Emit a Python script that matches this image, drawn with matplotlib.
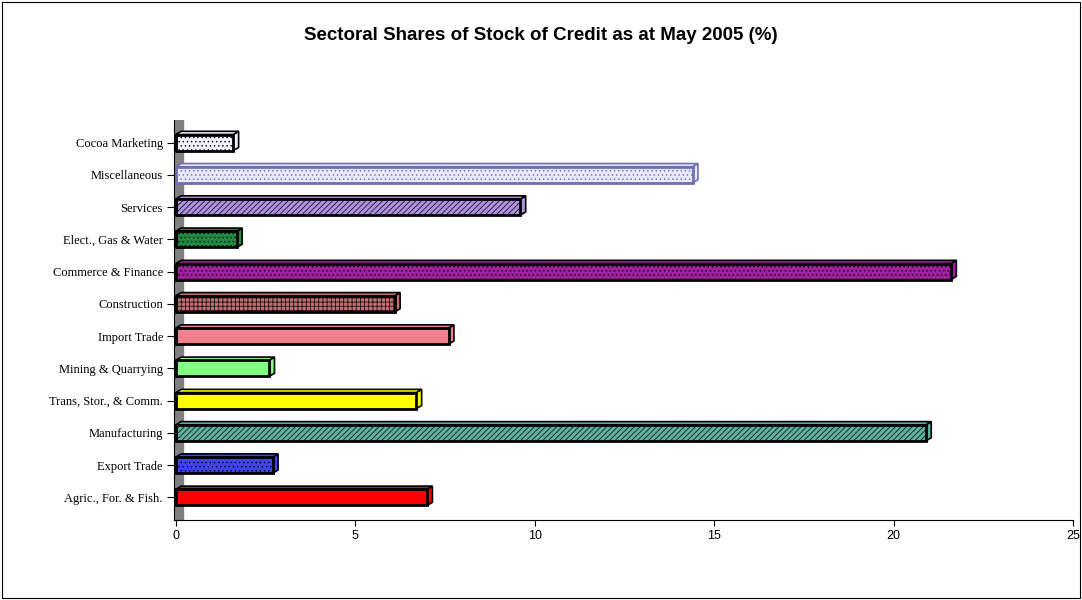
import matplotlib
matplotlib.use("Agg")
import matplotlib.pyplot as plt
from matplotlib.patches import Rectangle, Polygon

categories = ["Agric., For. & Fish.", "Export Trade", "Manufacturing", "Trans, Stor., & Comm.",
              "Mining & Quarrying", "Import Trade", "Construction", "Commerce & Finance",
              "Elect., Gas & Water", "Services", "Miscellaneous", "Cocoa Marketing"]
values = [7.0, 2.7, 20.9, 6.7, 2.6, 7.6, 6.1, 21.6, 1.7, 9.6, 14.4, 1.6]
colors = ["#ff0000", "#4040ff", "#60b0a0", "#ffff00", "#80ff80", "#f08090",
          "#c07070", "#a020a0", "#208a40", "#b090e0", "#e8e8ff", "#f0f0ff"]
hatches = [None, "....", "//////", None, None, None, "++++", "....", "....", "//////", "....", "...."]
edges = ["black"] * 10 + ["#7070b0", "black"]

fig = plt.figure(figsize=(10.82, 6), dpi=100)
fig.patches.append(Rectangle((0.0015, 0.003), 0.997, 0.994, transform=fig.transFigure,
                             fill=False, edgecolor="black", lw=0.8))
ax = fig.add_axes([174/1082, 80/600, 899/1082, 400/600])
plt.rcParams['hatch.linewidth'] = 0.5

ys = list(range(len(categories)))
for y, v, c, h, e in zip(ys, values, colors, hatches, edges):
    dx, dy = 0.15, 0.1
    ax.add_patch(Polygon([(v, y - 0.25), (v + dx, y - 0.25 + dy), (v + dx, y + 0.25 + dy), (v, y + 0.25)],
                         closed=True, facecolor=c, edgecolor=e, lw=1.2, zorder=2))
    ax.add_patch(Polygon([(0, y + 0.25), (dx, y + 0.25 + dy), (v + dx, y + 0.25 + dy), (v, y + 0.25)],
                         closed=True, facecolor=c, edgecolor=e, lw=1.2, zorder=2))
    ax.barh(y, v, height=0.5, color=c, edgecolor=e, linewidth=2, hatch=h, zorder=3)

ax.set_xlim(-0.05, 25)
ax.set_ylim(-0.7, 11.7)
ax.set_yticks(ys)
ax.set_yticklabels(categories, fontfamily="Liberation Serif", fontsize=9)
ax.set_xticks([0, 5, 10, 15, 20, 25])
ax.set_xticklabels(["0", "5", "10", "15", "20", "25"], fontfamily="Liberation Sans", fontsize=9)
for s in ["top", "right"]:
    ax.spines[s].set_visible(False)
ax.spines["left"].set_linewidth(0.8)
ax.spines["bottom"].set_linewidth(0.8)
ax.axvspan(-0.05, 0.2, color="#808080", zorder=1)
ax.tick_params(axis="y", length=5, pad=3)
ax.tick_params(axis="x", length=4)

fig.suptitle("Sectoral Shares of Stock of Credit as at May 2005 (%)", y=0.955,
             fontfamily="Liberation Sans", fontweight="bold", fontsize=13.5)
fig.savefig("out.png", dpi=100)
